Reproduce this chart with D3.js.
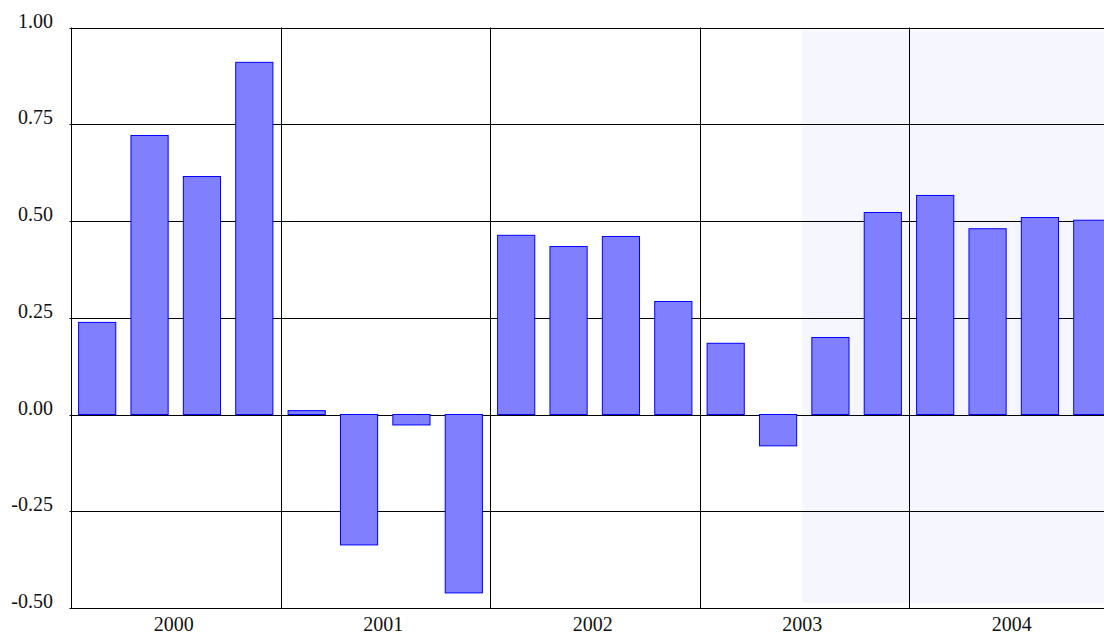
<!DOCTYPE html>
<html>
<head>
<meta charset="utf-8">
<script src="https://cdn.jsdelivr.net/npm/d3@7"></script>
<style>
  body { margin: 0; background: #fff; }
  svg { display: block; }
  text { font-family: "Liberation Serif", "Times New Roman", serif; fill: #111; }
</style>
</head>
<body>
<script>
// quarterly values
var years = ["2000", "2001", "2002", "2003", "2004"];
var quarters = ["Q1", "Q2", "Q3", "Q4"];
var values = [
  0.238, 0.721, 0.615, 0.910,
  0.010, -0.337, -0.027, -0.461,
  0.463, 0.434, 0.460, 0.292,
  0.184, -0.081, 0.199, 0.522,
  0.566, 0.480, 0.509, 0.502
];
var yTicks = [-0.5, -0.25, 0, 0.25, 0.5, 0.75, 1];
var shadeFrom = "2003 Q3";

var width = 1104, height = 636;
var margin = {top: 27.5, left: 71, bottom: 28};
var plotRight = 1118.5; // last year runs past the window edge

var data = [];
years.forEach(function(y, i) {
  quarters.forEach(function(q, j) {
    data.push({key: y + " " + q, value: values[i * 4 + j]});
  });
});

var svg = d3.select("body").append("svg")
    .attr("width", width)
    .attr("height", height);

var x = d3.scaleBand()
    .domain(data.map(function(d) { return d.key; }))
    .range([margin.left, plotRight])
    .paddingInner(0.29)
    .paddingOuter(0.145);

var xYear = d3.scaleBand()
    .domain(years)
    .range([margin.left, plotRight]);

var y = d3.scaleLinear()
    .domain([-0.5, 1])
    .range([height - margin.bottom, margin.top]);

// plain hyphen for negatives, like the original
var fmt = function(d) { return d3.format(".2f")(d).replace("\u2212", "-"); };

// shaded forecast region
var shadeX = x(shadeFrom) - x.step() * x.paddingInner() / 2 - 2;
svg.append("rect")
    .attr("x", shadeX)
    .attr("y", y(1) + 3)
    .attr("width", plotRight - shadeX)
    .attr("height", y(-0.5) - y(1) - 8)
    .attr("fill", "#f6f6ff");

// horizontal grid
svg.append("g")
  .selectAll("line")
  .data(yTicks)
  .enter().append("line")
    .attr("x1", margin.left - 1.5)
    .attr("x2", width)
    .attr("y1", function(d) { return Math.round(y(d)) + 0.5; })
    .attr("y2", function(d) { return Math.round(y(d)) + 0.5; })
    .attr("stroke", "#000")
    .attr("stroke-width", 1);

// year separators (and left axis)
svg.append("g")
  .selectAll("line")
  .data(years)
  .enter().append("line")
    .attr("x1", function(d) { return Math.round(xYear(d)) + 0.5; })
    .attr("x2", function(d) { return Math.round(xYear(d)) + 0.5; })
    .attr("y1", y(1))
    .attr("y2", y(-0.5) + 0.5)
    .attr("stroke", "#000")
    .attr("stroke-width", 1);

// bars
svg.append("g")
  .selectAll("rect")
  .data(data)
  .enter().append("rect")
    .attr("x", function(d) { return x(d.key); })
    .attr("y", function(d) { return y(Math.max(0, d.value)); })
    .attr("width", x.bandwidth())
    .attr("height", function(d) { return Math.abs(y(d.value) - y(0)); })
    .attr("fill", "#8080ff")
    .attr("stroke", "#0000ff")
    .attr("stroke-width", 1);

// y labels
svg.append("g")
  .selectAll("text")
  .data(yTicks)
  .enter().append("text")
    .attr("x", 53)
    .attr("y", function(d) { return y(d); })
    .attr("text-anchor", "end")
    .style("font-size", "20px")
    .text(fmt);

// year labels
svg.append("g")
  .selectAll("text")
  .data(years)
  .enter().append("text")
    .attr("x", function(d) { return xYear(d) + xYear.bandwidth() / 2 - 2; })
    .attr("y", 631)
    .attr("text-anchor", "middle")
    .style("font-size", "20px")
    .text(function(d) { return d; });
</script>
</body>
</html>
